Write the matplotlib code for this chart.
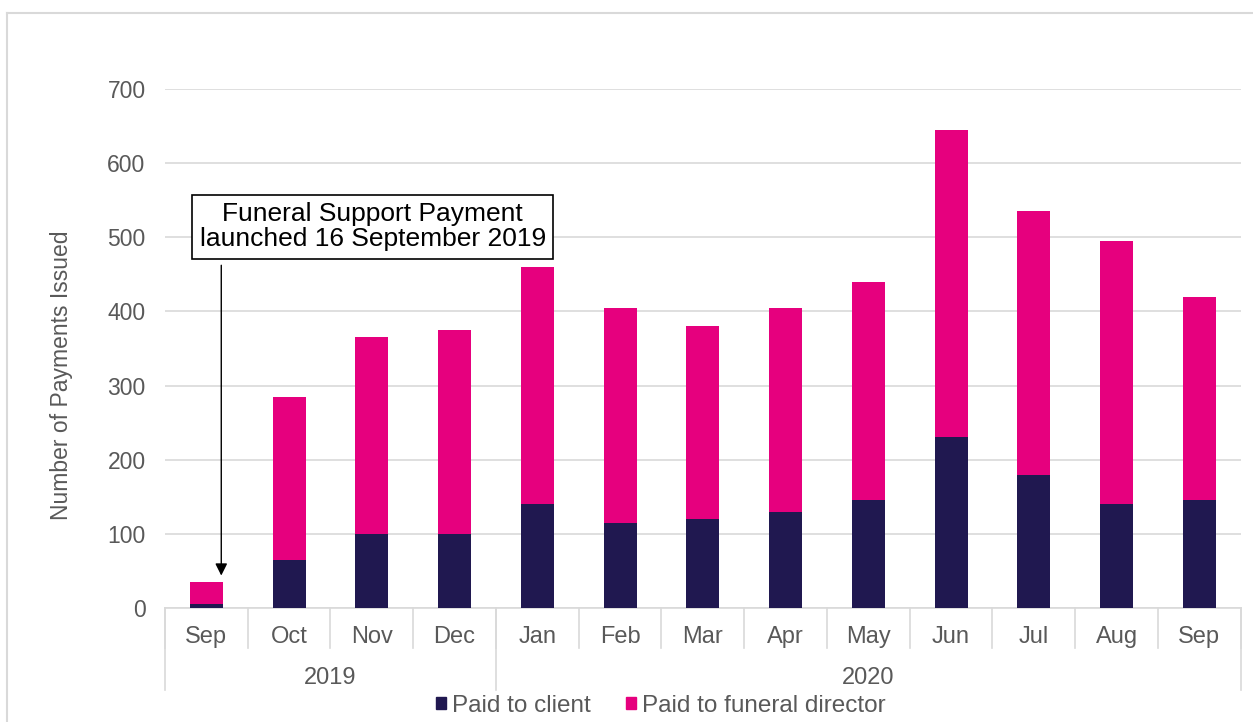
import matplotlib.pyplot as plt
from matplotlib.lines import Line2D
from matplotlib.patches import Patch
import numpy as np

plt.rcParams['font.family'] = ['Liberation Sans', 'DejaVu Sans']

# data
months = ['Sep', 'Oct', 'Nov', 'Dec', 'Jan', 'Feb', 'Mar', 'Apr', 'May', 'Jun', 'Jul', 'Aug', 'Sep']
years = ['2019', '2020']
year_counts = [4, 9]
paid_client = [5, 65, 100, 100, 140, 115, 120, 130, 145, 230, 180, 140, 145]
paid_director = [30, 220, 265, 275, 320, 290, 260, 275, 295, 415, 355, 355, 275]

navy = '#201850'
pink = '#e6007e'
gray = '#595959'
light = '#d9d9d9'

W, H = 1253, 722
fig = plt.figure(figsize=(W / 100, H / 100), dpi=100)
ax = fig.add_axes([165 / W, (H - 608) / H, (1240.7 - 165) / W, (608 - 89) / H])

x = np.arange(len(months))
ax.bar(x, paid_client, width=0.4, color=navy, zorder=3)
ax.bar(x, paid_director, width=0.4, bottom=paid_client, color=pink, zorder=3)

ax.set_xlim(-0.5, len(months) - 0.5)
ax.set_ylim(0, 700)
ax.set_yticks(range(0, 701, 100))
ax.tick_params(axis='y', length=0, pad=14, labelsize=16.5, labelcolor=gray)
ax.set_xticks([])
ax.grid(axis='y', color=light, linewidth=1.2, zorder=0)
for s in ['top', 'right', 'left']:
    ax.spines[s].set_visible(False)
ax.spines['bottom'].set_color(light)
ax.spines['bottom'].set_linewidth(1.2)

# two-level category axis
tr = ax.get_xaxis_transform()
for i, m in enumerate(months):
    ax.text(i, -0.056, m, transform=tr, ha='center', va='center', fontsize=17, color=gray)
for b in np.arange(-0.5, len(months), 1.0):
    ax.add_line(Line2D([b, b], [0, -0.077], transform=tr, color=light, lw=1.2, clip_on=False))
start = -0.5
for yr, n in zip(years, year_counts):
    ax.text(start + n / 2, -0.134, yr, transform=tr, ha='center', va='center', fontsize=17, color=gray)
    ax.add_line(Line2D([start, start], [0, -0.158], transform=tr, color=light, lw=1.2, clip_on=False))
    start += n
ax.add_line(Line2D([start, start], [0, -0.158], transform=tr, color=light, lw=1.2, clip_on=False))

# launch annotation
ax.text(2.01, 514, 'Funeral Support Payment\nlaunched 16 September 2019', ha='center', va='center',
        fontsize=19, color='black', linespacing=1.05, zorder=5,
        bbox=dict(boxstyle='square,pad=0.27', facecolor='white', edgecolor='black', linewidth=1.2))
ax.annotate('', xy=(0.18, 40), xytext=(0.18, 466),
            arrowprops=dict(arrowstyle='-|>', color='black', lw=1, mutation_scale=18))

fig.text(62 / W, (H - 375) / H, 'Number of Payments Issued', rotation=90,
         ha='center', va='center', fontsize=16.5, color=gray)

handles = [Patch(color=navy), Patch(color=pink)]
fig.legend(handles, ['Paid to client', 'Paid to funeral director'], loc='center',
           bbox_to_anchor=(661 / W, (H - 706) / H), ncol=2, frameon=False, fontsize=17.5,
           labelcolor=gray, handlelength=0.4, handleheight=0.4, handletextpad=0.25,
           columnspacing=1.45)

# light frame round the chart
fig.add_artist(Line2D([7 / W, 1.0], [(H - 13) / H] * 2, transform=fig.transFigure, color=light, lw=1.5))
fig.add_artist(Line2D([7 / W] * 2, [0, (H - 13) / H], transform=fig.transFigure, color=light, lw=1.5))

fig.savefig('out.png', dpi=100)
